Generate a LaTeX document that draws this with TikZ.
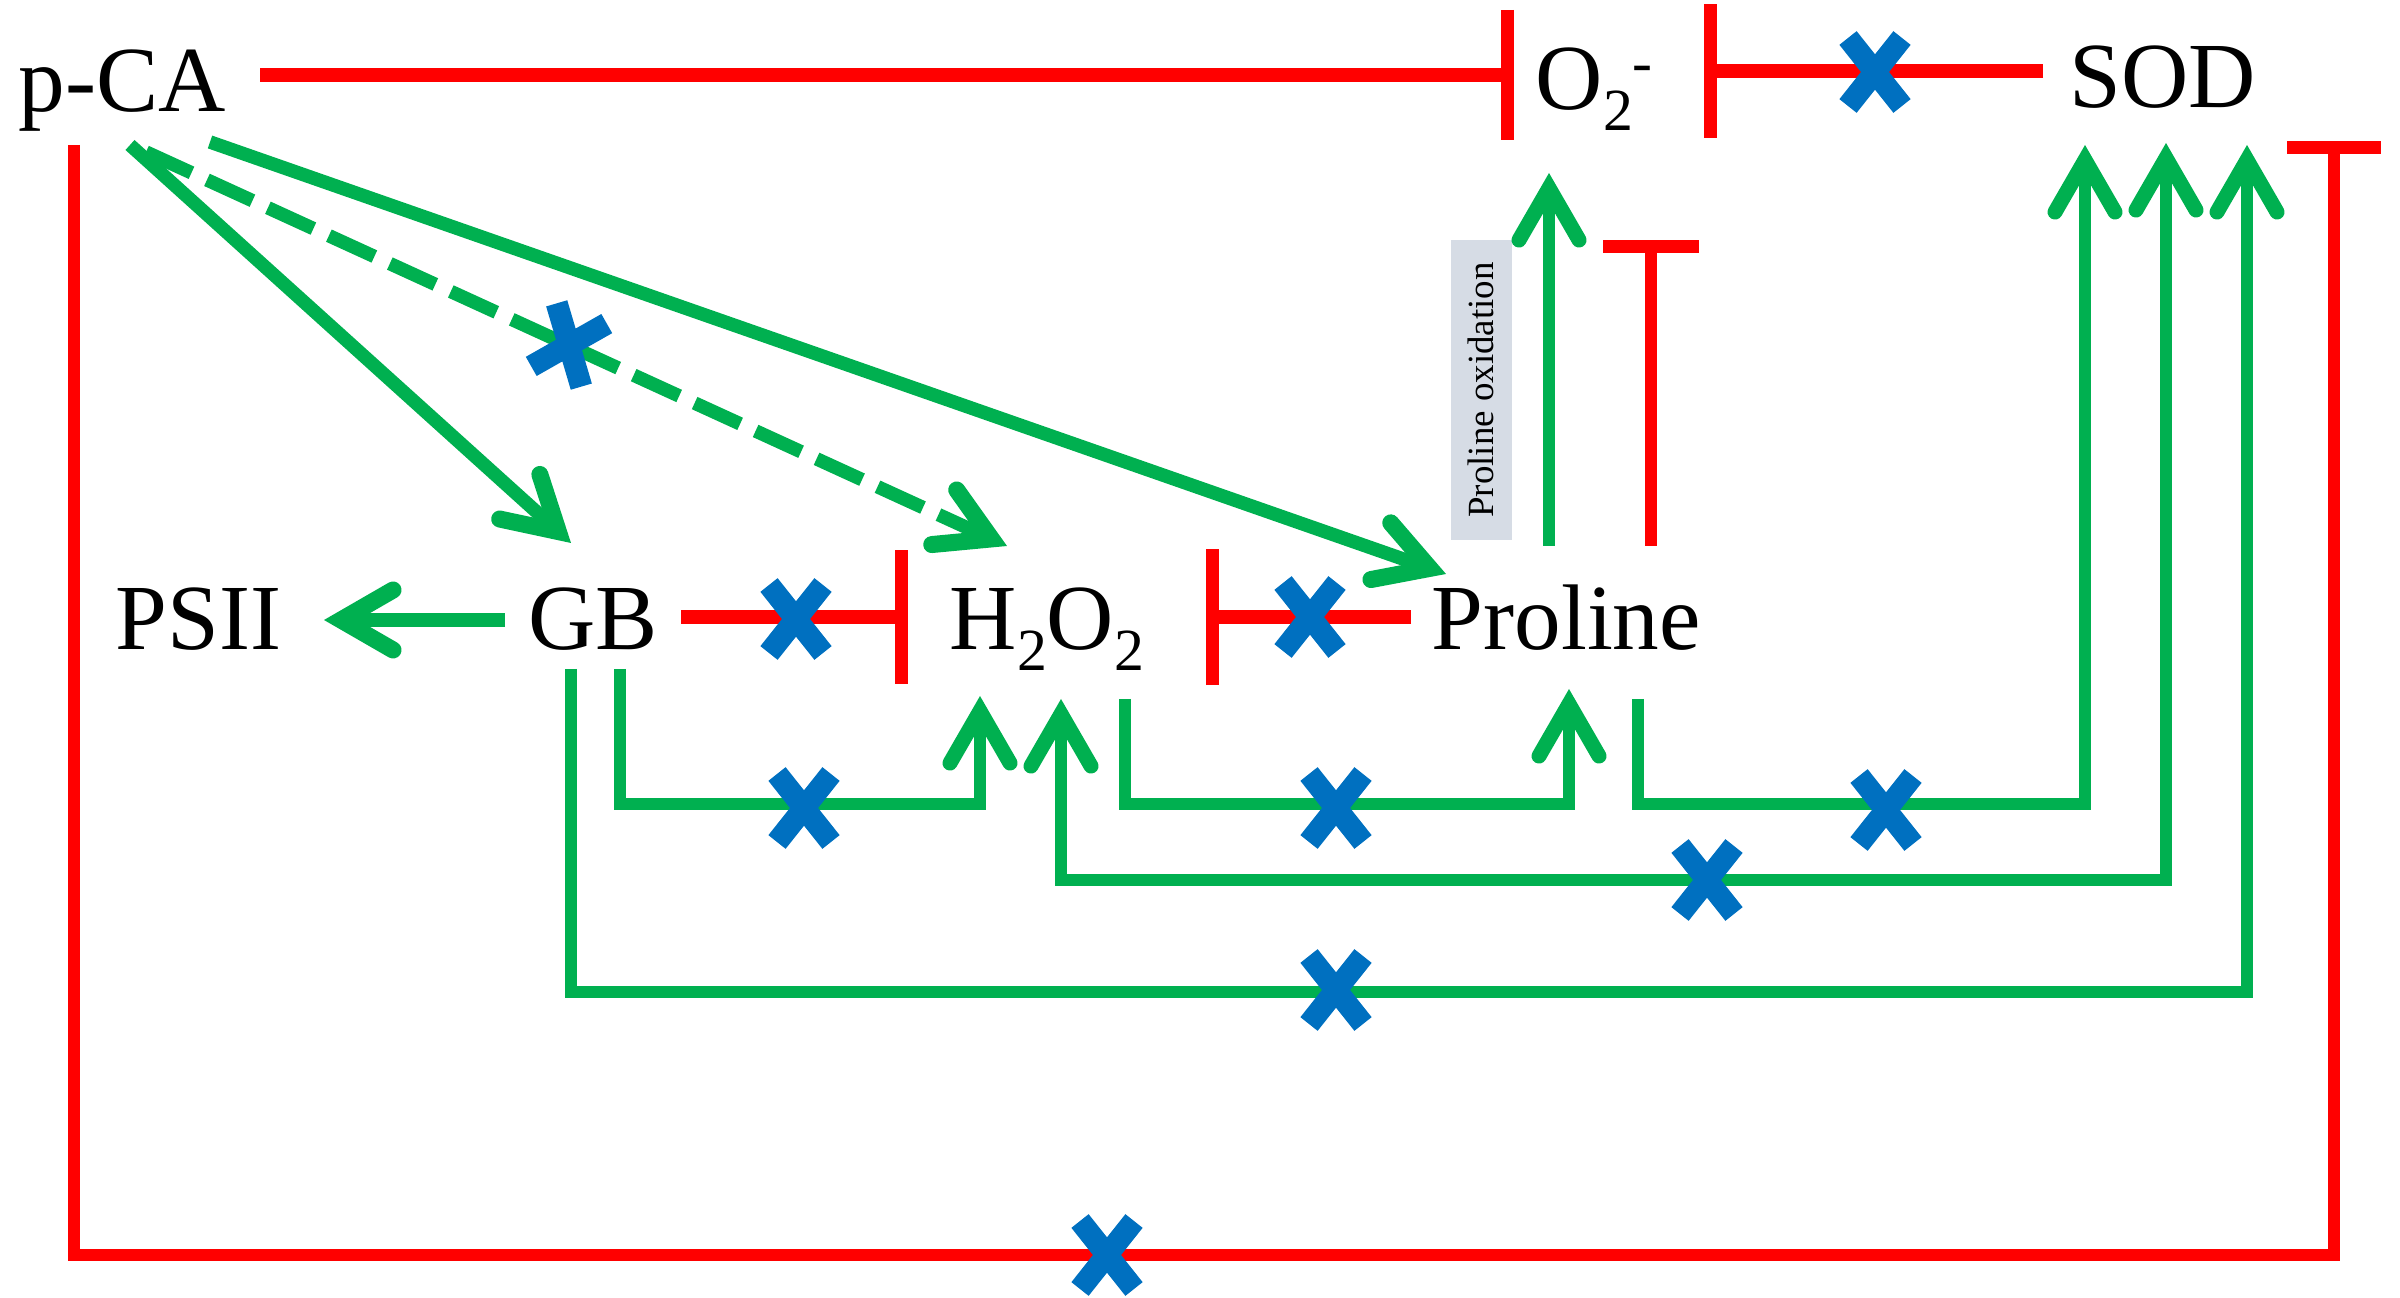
\documentclass[tikz,border=0pt]{standalone}
\usepackage{fontspec}
\setmainfont{Liberation Serif}
\usetikzlibrary{arrows.meta,calc}
\definecolor{grn}{HTML}{00B050}
\definecolor{rd}{HTML}{FF0000}
\definecolor{xblue}{HTML}{0070C0}
\definecolor{boxgray}{HTML}{D6DCE5}
\newcommand{\lowtwo}{\raisebox{-0.22em}{\fontsize{17}{17}\selectfont 2}}
\newcommand{\supminus}{\raisebox{0.3em}{\fontsize{17}{17}\selectfont -}}
\tikzset{
  barb/.tip={Straight Barb[length=0.52cm,width=0.6cm,line width=0.15cm,line cap=round]},
  bbarb/.tip={Straight Barb[length=0.52cm,width=0.6cm,line width=0.17cm,line cap=round]},
  spec/.style={anchor=base west, inner sep=0pt, font=\fontsize{26.5}{30}\selectfont},
  oxbox/.style={fill=boxgray, inner sep=0pt, minimum width=2.99cm, minimum height=0.61cm, font=\fontsize{10.5}{12}\selectfont},
  act/.style={draw=grn, line width=0.115cm, -{barb}},
  actb/.style={draw=grn, line width=0.135cm, -{bbarb}},
  actd/.style={actb, dash pattern=on 0.5cm off 0.17cm},
  inh/.style={draw=rd, line width=0.14cm, -{Bar[width=#1, line width=0.13cm]}},
  inh/.default=1.3cm,
  nox/.pic={
    \draw[xblue, line width=0.22cm] (-27,-34) -- (27,34) (27,-34) -- (-27,34);
  }
}
\begin{document}
\begin{tikzpicture}[x=0.01cm, y=-0.01cm]
\useasboundingbox (0,0) rectangle (2400,1298);
% species
\node[spec] (pca) at (18,112) {p-CA};
\node[spec] (otwo) at (1535,110) {O\lowtwo\supminus};
\node[spec] (sod) at (2069,108) {SOD};
\node[spec] (psii) at (115,650) {PSII};
\node[spec] (gb) at (528,650) {GB};
\node[spec] (hto) at (949,650) {H\lowtwo O\lowtwo};
\node[spec] (pro) at (1431,650) {Proline};
\node[oxbox, rotate=90] (oxl) at (1481,390) {Proline oxidation};

% inhibitions
\draw[inh] ($(pca.base west)+(242,-37)$) -- ($(otwo.base west)+(-21,-35)$);
\draw[inh=1.33cm] ($(sod.base west)+(-26,-37)$) -- ($(otwo.base west)+(169,-39)$);
\draw[inh=0.94cm, line width=0.12cm] ($(pca.base west)+(56,33)$) -- ++(0,1110) -| ($(sod.base west)+(265,33)$);
\draw[inh=1.33cm] ($(gb.base west)+(153,-33)$) -- ($(hto.base west)+(-41,-33)$);
\draw[inh=1.36cm] ($(pro.base west)+(-20,-33)$) -- ($(hto.base west)+(257,-33)$);
\draw[inh=0.95cm, line width=0.12cm] ($(pro.base west)+(220,-104)$) -- ($(otwo.base west)+(116,130)$);

% activations
\draw[actb] ($(pca.base west)+(112,33)$) -- ($(gb.base west)+(43,-107)$);
\draw[actd] ($(pca.base west)+(128,40)$) -- ($(hto.base west)+(58,-104)$);
\draw[actb] ($(pca.base west)+(192,30)$) -- ($(pro.base west)+(15,-76)$);
\draw[actb] ($(gb.base west)+(-23,-30)$) -- ($(psii.base west)+(209,-30)$);
\draw[act] ($(pro.base west)+(118,-104)$) -- ($(otwo.base west)+(14,63)$);
\draw[act] ($(gb.base west)+(92,19)$) -- ++(0,135) -| ($(hto.base west)+(31,46)$);
\draw[act] ($(hto.base west)+(176,49)$) -- ++(0,105) -| ($(pro.base west)+(138,39)$);
\draw[act] ($(pro.base west)+(207,49)$) -- ++(0,105) -| ($(sod.base west)+(16,37)$);
\draw[act, {barb}-{barb}] ($(hto.base west)+(112,49)$) -- ++(0,181) -| ($(sod.base west)+(97,35)$);
\draw[act] ($(gb.base west)+(43,19)$) -- ++(0,323) -| ($(sod.base west)+(178,37)$);

% blocked links
\pic at (1875,72) {nox};
\pic at (1107,1255) {nox};
\pic[rotate=-22] at (569,345) {nox};
\pic at (796,619) {nox};
\pic at (1310,617) {nox};
\pic at (804,808) {nox};
\pic at (1336,808) {nox};
\pic at (1886,810) {nox};
\pic at (1707,880) {nox};
\pic at (1336,990) {nox};
\end{tikzpicture}
\end{document}
